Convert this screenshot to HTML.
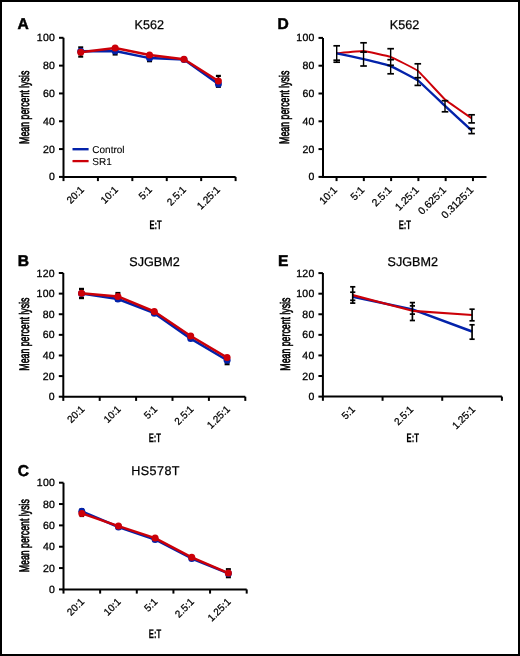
<!DOCTYPE html>
<html><head><meta charset="utf-8"><style>
html,body{margin:0;padding:0;background:#fff;}
body{width:520px;height:656px;overflow:hidden;}
svg{display:block;will-change:transform;}
.t{text-rendering:geometricPrecision;font-family:"Liberation Sans", sans-serif;fill:#000;stroke:#000;stroke-width:0.25px;}
</style></head><body>
<svg width="520" height="656" viewBox="0 0 520 656">
<rect x="1" y="1" width="518" height="654" fill="#fff" stroke="#000" stroke-width="2"/>
<text x="17.5" y="29.0" font-size="15.6" font-weight="bold" class="t" style="stroke-width:0.5px">A</text>
<text x="149.3" y="29" font-size="12.6" text-anchor="middle" class="t">K562</text>
<path d="M63.5 37.8 V176.9 H235.6" stroke="#000" stroke-width="2" fill="none"/>
<path d="M59.0 176.90 H63.5" stroke="#000" stroke-width="2"/>
<text x="55.10" y="180.40" font-size="10.5" letter-spacing="0.25" text-anchor="end" class="t" style="stroke-width:0.3px">0</text>
<path d="M59.0 149.08 H63.5" stroke="#000" stroke-width="2"/>
<text x="55.10" y="152.58" font-size="10.5" letter-spacing="0.25" text-anchor="end" class="t" style="stroke-width:0.3px">20</text>
<path d="M59.0 121.26 H63.5" stroke="#000" stroke-width="2"/>
<text x="55.10" y="124.76" font-size="10.5" letter-spacing="0.25" text-anchor="end" class="t" style="stroke-width:0.3px">40</text>
<path d="M59.0 93.44 H63.5" stroke="#000" stroke-width="2"/>
<text x="55.10" y="96.94" font-size="10.5" letter-spacing="0.25" text-anchor="end" class="t" style="stroke-width:0.3px">60</text>
<path d="M59.0 65.62 H63.5" stroke="#000" stroke-width="2"/>
<text x="55.10" y="69.12" font-size="10.5" letter-spacing="0.25" text-anchor="end" class="t" style="stroke-width:0.3px">80</text>
<path d="M59.0 37.80 H63.5" stroke="#000" stroke-width="2"/>
<text x="55.10" y="41.30" font-size="10.5" letter-spacing="0.25" text-anchor="end" class="t" style="stroke-width:0.3px">100</text>
<path d="M63.50 176.9 V181.1" stroke="#000" stroke-width="2"/>
<path d="M97.92 176.9 V181.1" stroke="#000" stroke-width="2"/>
<path d="M132.34 176.9 V181.1" stroke="#000" stroke-width="2"/>
<path d="M166.76 176.9 V181.1" stroke="#000" stroke-width="2"/>
<path d="M201.18 176.9 V181.1" stroke="#000" stroke-width="2"/>
<path d="M235.60 176.9 V181.1" stroke="#000" stroke-width="2"/>
<text transform="translate(84.61,190.4) rotate(-45)" font-size="10" text-anchor="end" class="t" style="stroke-width:0.25px">20:1</text>
<text transform="translate(118.63,190.4) rotate(-45)" font-size="10" text-anchor="end" class="t" style="stroke-width:0.25px">10:1</text>
<text transform="translate(152.65,190.4) rotate(-45)" font-size="10" text-anchor="end" class="t" style="stroke-width:0.25px">5:1</text>
<text transform="translate(186.67,190.4) rotate(-45)" font-size="10" text-anchor="end" class="t" style="stroke-width:0.25px">2.5:1</text>
<text transform="translate(220.69,190.4) rotate(-45)" font-size="10" text-anchor="end" class="t" style="stroke-width:0.25px">1.25:1</text>
<text transform="translate(155.6,229.1) scale(0.615,1)" font-size="12.4" font-weight="bold" text-anchor="middle" class="t">E:T</text>
<text transform="translate(29.2,107.3) rotate(-90) scale(0.636,1)" text-anchor="middle" font-size="13.8" class="t" style="stroke-width:0.7px">Mean percent lysis</text>
<path d="M80.71 47.4 V56.6" stroke="#000" stroke-width="1.6"/>
<path d="M78.21 47.4 H83.21" stroke="#000" stroke-width="2.2"/>
<path d="M78.21 56.6 H83.21" stroke="#000" stroke-width="2.2"/>
<path d="M115.13 47 V54.5" stroke="#000" stroke-width="1.6"/>
<path d="M112.63 47 H117.63" stroke="#000" stroke-width="2.2"/>
<path d="M112.63 54.5 H117.63" stroke="#000" stroke-width="2.2"/>
<path d="M149.55 55 V61.2" stroke="#000" stroke-width="1.6"/>
<path d="M147.05 55 H152.05" stroke="#000" stroke-width="2.2"/>
<path d="M147.05 61.2 H152.05" stroke="#000" stroke-width="2.2"/>
<path d="M218.39 75.9 V86.8" stroke="#000" stroke-width="1.6"/>
<path d="M215.89 75.9 H220.89" stroke="#000" stroke-width="2.2"/>
<path d="M215.89 86.8 H220.89" stroke="#000" stroke-width="2.2"/>
<polyline points="80.71,51.20 115.13,51.00 149.55,58.10 183.97,59.40 218.39,84.00" fill="none" stroke="#0322aa" stroke-width="2.5" stroke-linejoin="round"/>
<circle cx="80.71" cy="51.20" r="3.5" fill="#0322aa"/>
<circle cx="115.13" cy="51.00" r="3.5" fill="#0322aa"/>
<circle cx="149.55" cy="58.10" r="3.5" fill="#0322aa"/>
<circle cx="183.97" cy="59.40" r="3.5" fill="#0322aa"/>
<circle cx="218.39" cy="84.00" r="3.5" fill="#0322aa"/>
<polyline points="80.71,52.20 115.13,48.10 149.55,55.00 183.97,59.20 218.39,81.00" fill="none" stroke="#cc0008" stroke-width="2.5" stroke-linejoin="round"/>
<circle cx="80.71" cy="52.20" r="3.5" fill="#cc0008"/>
<circle cx="115.13" cy="48.10" r="3.5" fill="#cc0008"/>
<circle cx="149.55" cy="55.00" r="3.5" fill="#cc0008"/>
<circle cx="183.97" cy="59.20" r="3.5" fill="#cc0008"/>
<circle cx="218.39" cy="81.00" r="3.5" fill="#cc0008"/>
<path d="M72.5 149.2 H88.6" stroke="#0322aa" stroke-width="2.4"/>
<path d="M72.5 161.1 H88.6" stroke="#cc0008" stroke-width="2.3"/>
<text x="92.3" y="153" font-size="10" class="t" style="stroke-width:0.1px">Control</text>
<text x="92.3" y="165.2" font-size="10" class="t" style="stroke-width:0.1px">SR1</text>
<text x="17.8" y="265.9" font-size="15.6" font-weight="bold" class="t" style="stroke-width:0.5px">B</text>
<text x="154.5" y="265.8" font-size="12.6" text-anchor="middle" class="t">SJGBM2</text>
<path d="M63.3 273 V396.7 H245.3" stroke="#000" stroke-width="2" fill="none"/>
<path d="M58.8 396.70 H63.3" stroke="#000" stroke-width="2"/>
<text x="54.90" y="400.20" font-size="10.5" letter-spacing="0.25" text-anchor="end" class="t" style="stroke-width:0.3px">0</text>
<path d="M58.8 376.08 H63.3" stroke="#000" stroke-width="2"/>
<text x="54.90" y="379.58" font-size="10.5" letter-spacing="0.25" text-anchor="end" class="t" style="stroke-width:0.3px">20</text>
<path d="M58.8 355.47 H63.3" stroke="#000" stroke-width="2"/>
<text x="54.90" y="358.97" font-size="10.5" letter-spacing="0.25" text-anchor="end" class="t" style="stroke-width:0.3px">40</text>
<path d="M58.8 334.85 H63.3" stroke="#000" stroke-width="2"/>
<text x="54.90" y="338.35" font-size="10.5" letter-spacing="0.25" text-anchor="end" class="t" style="stroke-width:0.3px">60</text>
<path d="M58.8 314.23 H63.3" stroke="#000" stroke-width="2"/>
<text x="54.90" y="317.73" font-size="10.5" letter-spacing="0.25" text-anchor="end" class="t" style="stroke-width:0.3px">80</text>
<path d="M58.8 293.62 H63.3" stroke="#000" stroke-width="2"/>
<text x="54.90" y="297.12" font-size="10.5" letter-spacing="0.25" text-anchor="end" class="t" style="stroke-width:0.3px">100</text>
<path d="M58.8 273.00 H63.3" stroke="#000" stroke-width="2"/>
<text x="54.90" y="276.50" font-size="10.5" letter-spacing="0.25" text-anchor="end" class="t" style="stroke-width:0.3px">120</text>
<path d="M63.30 396.7 V400.9" stroke="#000" stroke-width="2"/>
<path d="M99.70 396.7 V400.9" stroke="#000" stroke-width="2"/>
<path d="M136.10 396.7 V400.9" stroke="#000" stroke-width="2"/>
<path d="M172.50 396.7 V400.9" stroke="#000" stroke-width="2"/>
<path d="M208.90 396.7 V400.9" stroke="#000" stroke-width="2"/>
<path d="M245.30 396.7 V400.9" stroke="#000" stroke-width="2"/>
<text transform="translate(85.10,409.7) rotate(-45)" font-size="10" text-anchor="end" class="t" style="stroke-width:0.25px">20:1</text>
<text transform="translate(121.50,409.7) rotate(-45)" font-size="10" text-anchor="end" class="t" style="stroke-width:0.25px">10:1</text>
<text transform="translate(157.90,409.7) rotate(-45)" font-size="10" text-anchor="end" class="t" style="stroke-width:0.25px">5:1</text>
<text transform="translate(194.30,409.7) rotate(-45)" font-size="10" text-anchor="end" class="t" style="stroke-width:0.25px">2.5:1</text>
<text transform="translate(230.70,409.7) rotate(-45)" font-size="10" text-anchor="end" class="t" style="stroke-width:0.25px">1.25:1</text>
<text transform="translate(154.8,441.9) scale(0.615,1)" font-size="12.4" font-weight="bold" text-anchor="middle" class="t">E:T</text>
<text transform="translate(29.4,334.1) rotate(-90) scale(0.636,1)" text-anchor="middle" font-size="13.8" class="t" style="stroke-width:0.7px">Mean percent lysis</text>
<path d="M81.50 288.9 V298.1" stroke="#000" stroke-width="1.6"/>
<path d="M79.00 288.9 H84.00" stroke="#000" stroke-width="2.2"/>
<path d="M79.00 298.1 H84.00" stroke="#000" stroke-width="2.2"/>
<path d="M117.90 293 V300.5" stroke="#000" stroke-width="1.6"/>
<path d="M115.40 293 H120.40" stroke="#000" stroke-width="2.2"/>
<path d="M115.40 300.5 H120.40" stroke="#000" stroke-width="2.2"/>
<path d="M227.10 359 V364.2" stroke="#000" stroke-width="1.6"/>
<path d="M224.60 359 H229.60" stroke="#000" stroke-width="2.2"/>
<path d="M224.60 364.2 H229.60" stroke="#000" stroke-width="2.2"/>
<polyline points="81.50,293.40 117.90,299.00 154.30,313.20 190.70,338.60 227.10,360.20" fill="none" stroke="#0322aa" stroke-width="2.5" stroke-linejoin="round"/>
<circle cx="81.50" cy="293.40" r="3.5" fill="#0322aa"/>
<circle cx="117.90" cy="299.00" r="3.5" fill="#0322aa"/>
<circle cx="154.30" cy="313.20" r="3.5" fill="#0322aa"/>
<circle cx="190.70" cy="338.60" r="3.5" fill="#0322aa"/>
<circle cx="227.10" cy="360.20" r="3.5" fill="#0322aa"/>
<polyline points="81.50,293.30 117.90,296.40 154.30,311.50 190.70,336.00 227.10,357.60" fill="none" stroke="#cc0008" stroke-width="2.5" stroke-linejoin="round"/>
<circle cx="81.50" cy="293.30" r="3.5" fill="#cc0008"/>
<circle cx="117.90" cy="296.40" r="3.5" fill="#cc0008"/>
<circle cx="154.30" cy="311.50" r="3.5" fill="#cc0008"/>
<circle cx="190.70" cy="336.00" r="3.5" fill="#cc0008"/>
<circle cx="227.10" cy="357.60" r="3.5" fill="#cc0008"/>
<text x="17.8" y="476.2" font-size="15.6" font-weight="bold" class="t" style="stroke-width:0.5px">C</text>
<text x="155.6" y="475.2" font-size="12.6" text-anchor="middle" letter-spacing="0.4" class="t">HS578T</text>
<path d="M63.5 482.7 V589.4 H246.7" stroke="#000" stroke-width="2" fill="none"/>
<path d="M59.0 589.40 H63.5" stroke="#000" stroke-width="2"/>
<text x="55.10" y="592.90" font-size="10.5" letter-spacing="0.25" text-anchor="end" class="t" style="stroke-width:0.3px">0</text>
<path d="M59.0 568.06 H63.5" stroke="#000" stroke-width="2"/>
<text x="55.10" y="571.56" font-size="10.5" letter-spacing="0.25" text-anchor="end" class="t" style="stroke-width:0.3px">20</text>
<path d="M59.0 546.72 H63.5" stroke="#000" stroke-width="2"/>
<text x="55.10" y="550.22" font-size="10.5" letter-spacing="0.25" text-anchor="end" class="t" style="stroke-width:0.3px">40</text>
<path d="M59.0 525.38 H63.5" stroke="#000" stroke-width="2"/>
<text x="55.10" y="528.88" font-size="10.5" letter-spacing="0.25" text-anchor="end" class="t" style="stroke-width:0.3px">60</text>
<path d="M59.0 504.04 H63.5" stroke="#000" stroke-width="2"/>
<text x="55.10" y="507.54" font-size="10.5" letter-spacing="0.25" text-anchor="end" class="t" style="stroke-width:0.3px">80</text>
<path d="M59.0 482.70 H63.5" stroke="#000" stroke-width="2"/>
<text x="55.10" y="486.20" font-size="10.5" letter-spacing="0.25" text-anchor="end" class="t" style="stroke-width:0.3px">100</text>
<path d="M63.50 589.4 V593.6" stroke="#000" stroke-width="2"/>
<path d="M100.14 589.4 V593.6" stroke="#000" stroke-width="2"/>
<path d="M136.78 589.4 V593.6" stroke="#000" stroke-width="2"/>
<path d="M173.42 589.4 V593.6" stroke="#000" stroke-width="2"/>
<path d="M210.06 589.4 V593.6" stroke="#000" stroke-width="2"/>
<path d="M246.70 589.4 V593.6" stroke="#000" stroke-width="2"/>
<text transform="translate(84.82,602.4) rotate(-45)" font-size="10" text-anchor="end" class="t" style="stroke-width:0.25px">20:1</text>
<text transform="translate(121.46,602.4) rotate(-45)" font-size="10" text-anchor="end" class="t" style="stroke-width:0.25px">10:1</text>
<text transform="translate(158.10,602.4) rotate(-45)" font-size="10" text-anchor="end" class="t" style="stroke-width:0.25px">5:1</text>
<text transform="translate(194.74,602.4) rotate(-45)" font-size="10" text-anchor="end" class="t" style="stroke-width:0.25px">2.5:1</text>
<text transform="translate(231.38,602.4) rotate(-45)" font-size="10" text-anchor="end" class="t" style="stroke-width:0.25px">1.25:1</text>
<text transform="translate(155,638.1) scale(0.615,1)" font-size="12.4" font-weight="bold" text-anchor="middle" class="t">E:T</text>
<text transform="translate(29.4,535.7) rotate(-90) scale(0.636,1)" text-anchor="middle" font-size="13.8" class="t" style="stroke-width:0.7px">Mean percent lysis</text>
<path d="M81.82 509.4 V516" stroke="#000" stroke-width="1.6"/>
<path d="M79.62 509.4 H84.02" stroke="#000" stroke-width="2.2"/>
<path d="M79.62 516 H84.02" stroke="#000" stroke-width="2.2"/>
<path d="M228.38 569.2 V577.2" stroke="#000" stroke-width="1.6"/>
<path d="M225.88 569.2 H230.88" stroke="#000" stroke-width="2.2"/>
<path d="M225.88 577.2 H230.88" stroke="#000" stroke-width="2.2"/>
<polyline points="81.82,511.30 118.46,527.00 155.10,539.50 191.74,558.50 228.38,573.40" fill="none" stroke="#0322aa" stroke-width="2.5" stroke-linejoin="round"/>
<circle cx="81.82" cy="511.30" r="3.5" fill="#0322aa"/>
<circle cx="118.46" cy="527.00" r="3.5" fill="#0322aa"/>
<circle cx="155.10" cy="539.50" r="3.5" fill="#0322aa"/>
<circle cx="191.74" cy="558.50" r="3.5" fill="#0322aa"/>
<circle cx="228.38" cy="573.40" r="3.5" fill="#0322aa"/>
<polyline points="81.82,513.40 118.46,526.10 155.10,538.10 191.74,557.30 228.38,573.10" fill="none" stroke="#cc0008" stroke-width="2.5" stroke-linejoin="round"/>
<circle cx="81.82" cy="513.40" r="3.5" fill="#cc0008"/>
<circle cx="118.46" cy="526.10" r="3.5" fill="#cc0008"/>
<circle cx="155.10" cy="538.10" r="3.5" fill="#cc0008"/>
<circle cx="191.74" cy="557.30" r="3.5" fill="#cc0008"/>
<circle cx="228.38" cy="573.10" r="3.5" fill="#cc0008"/>
<text x="277.5" y="29.0" font-size="15.6" font-weight="bold" class="t" style="stroke-width:0.5px">D</text>
<text x="404.5" y="28.8" font-size="12.6" text-anchor="middle" class="t">K562</text>
<path d="M323 37.9 V176.9 H486.5" stroke="#000" stroke-width="2" fill="none"/>
<path d="M318.5 176.90 H323" stroke="#000" stroke-width="2"/>
<text x="314.60" y="180.40" font-size="10.5" letter-spacing="0.25" text-anchor="end" class="t" style="stroke-width:0.3px">0</text>
<path d="M318.5 149.10 H323" stroke="#000" stroke-width="2"/>
<text x="314.60" y="152.60" font-size="10.5" letter-spacing="0.25" text-anchor="end" class="t" style="stroke-width:0.3px">20</text>
<path d="M318.5 121.30 H323" stroke="#000" stroke-width="2"/>
<text x="314.60" y="124.80" font-size="10.5" letter-spacing="0.25" text-anchor="end" class="t" style="stroke-width:0.3px">40</text>
<path d="M318.5 93.50 H323" stroke="#000" stroke-width="2"/>
<text x="314.60" y="97.00" font-size="10.5" letter-spacing="0.25" text-anchor="end" class="t" style="stroke-width:0.3px">60</text>
<path d="M318.5 65.70 H323" stroke="#000" stroke-width="2"/>
<text x="314.60" y="69.20" font-size="10.5" letter-spacing="0.25" text-anchor="end" class="t" style="stroke-width:0.3px">80</text>
<path d="M318.5 37.90 H323" stroke="#000" stroke-width="2"/>
<text x="314.60" y="41.40" font-size="10.5" letter-spacing="0.25" text-anchor="end" class="t" style="stroke-width:0.3px">100</text>
<path d="M336.55 176.9 V181.1" stroke="#000" stroke-width="2"/>
<path d="M363.83 176.9 V181.1" stroke="#000" stroke-width="2"/>
<path d="M391.11 176.9 V181.1" stroke="#000" stroke-width="2"/>
<path d="M418.39 176.9 V181.1" stroke="#000" stroke-width="2"/>
<path d="M445.67 176.9 V181.1" stroke="#000" stroke-width="2"/>
<path d="M472.95 176.9 V181.1" stroke="#000" stroke-width="2"/>
<text transform="translate(337.75,190.70000000000002) rotate(-45)" font-size="10.4" text-anchor="end" class="t" style="stroke-width:0.25px">10:1</text>
<text transform="translate(365.03,190.70000000000002) rotate(-45)" font-size="10.4" text-anchor="end" class="t" style="stroke-width:0.25px">5:1</text>
<text transform="translate(392.31,190.70000000000002) rotate(-45)" font-size="10.4" text-anchor="end" class="t" style="stroke-width:0.25px">2.5:1</text>
<text transform="translate(419.59,190.70000000000002) rotate(-45)" font-size="10.4" text-anchor="end" class="t" style="stroke-width:0.25px">1.25:1</text>
<text transform="translate(446.87,190.70000000000002) rotate(-45)" font-size="10.4" text-anchor="end" class="t" style="stroke-width:0.25px">0.625:1</text>
<text transform="translate(474.15,190.70000000000002) rotate(-45)" font-size="10.4" text-anchor="end" class="t" style="stroke-width:0.25px">0.3125:1</text>
<text transform="translate(404.8,229.2) scale(0.615,1)" font-size="12.4" font-weight="bold" text-anchor="middle" class="t">E:T</text>
<text transform="translate(289.2,107.3) rotate(-90) scale(0.636,1)" text-anchor="middle" font-size="13.8" class="t" style="stroke-width:0.7px">Mean percent lysis</text>
<path d="M336.70 53.30 C337.77 53.21 361.39 50.86 363.55 51.00 C365.71 51.14 388.48 56.11 390.65 56.90 C392.82 57.69 415.63 69.10 417.80 70.80 C419.97 72.50 442.85 97.60 445.00 99.50 C447.15 101.40 470.54 117.55 471.60 118.30" fill="none" stroke="#cc0008" stroke-width="1.9"/>
<path d="M336.70 53.30 C337.77 53.53 361.39 58.59 363.55 59.10 C365.71 59.61 388.48 65.25 390.65 66.10 C392.82 66.95 415.63 78.81 417.80 80.40 C419.97 81.99 442.85 103.90 445.00 105.90 C447.15 107.90 470.54 129.42 471.60 130.40" fill="none" stroke="#0322aa" stroke-width="2.4"/>
<path d="M336.70 45.8 V62.2" stroke="#000" stroke-width="1.4"/>
<path d="M333.40 45.8 H340.00" stroke="#000" stroke-width="1.7"/>
<path d="M333.40 60.2 H340.00" stroke="#000" stroke-width="1.7"/>
<path d="M333.40 62.2 H340.00" stroke="#000" stroke-width="1.7"/>
<path d="M363.55 42.8 V66" stroke="#000" stroke-width="1.4"/>
<path d="M360.25 42.8 H366.85" stroke="#000" stroke-width="1.7"/>
<path d="M360.25 52.1 H366.85" stroke="#000" stroke-width="1.7"/>
<path d="M360.25 66 H366.85" stroke="#000" stroke-width="1.7"/>
<path d="M390.65 48.7 V73.8" stroke="#000" stroke-width="1.4"/>
<path d="M387.35 48.7 H393.95" stroke="#000" stroke-width="1.7"/>
<path d="M387.35 59.7 H393.95" stroke="#000" stroke-width="1.7"/>
<path d="M387.35 65.3 H393.95" stroke="#000" stroke-width="1.7"/>
<path d="M387.35 73.8 H393.95" stroke="#000" stroke-width="1.7"/>
<path d="M417.80 63.8 V85.4" stroke="#000" stroke-width="1.4"/>
<path d="M414.50 63.8 H421.10" stroke="#000" stroke-width="1.7"/>
<path d="M414.50 77.7 H421.10" stroke="#000" stroke-width="1.7"/>
<path d="M414.50 85.4 H421.10" stroke="#000" stroke-width="1.7"/>
<path d="M445.00 100.7 V111.8" stroke="#000" stroke-width="1.4"/>
<path d="M441.70 100.7 H448.30" stroke="#000" stroke-width="1.7"/>
<path d="M441.70 111.8 H448.30" stroke="#000" stroke-width="1.7"/>
<path d="M471.60 114.8 V122.9" stroke="#000" stroke-width="1.4"/>
<path d="M468.30 114.8 H474.90" stroke="#000" stroke-width="1.7"/>
<path d="M468.30 122.9 H474.90" stroke="#000" stroke-width="1.7"/>
<path d="M471.60 128.4 V133.6" stroke="#000" stroke-width="1.4"/>
<path d="M468.30 128.4 H474.90" stroke="#000" stroke-width="1.7"/>
<path d="M468.30 133.6 H474.90" stroke="#000" stroke-width="1.7"/>
<text x="278" y="265.59999999999997" font-size="15.6" font-weight="bold" class="t" style="stroke-width:0.5px">E</text>
<text x="412.7" y="266.2" font-size="12.6" text-anchor="middle" class="t">SJGBM2</text>
<path d="M322.9 273.1 V396.6 H501.9" stroke="#000" stroke-width="2" fill="none"/>
<path d="M318.4 396.60 H322.9" stroke="#000" stroke-width="2"/>
<text x="314.50" y="400.10" font-size="10.5" letter-spacing="0.25" text-anchor="end" class="t" style="stroke-width:0.3px">0</text>
<path d="M318.4 376.02 H322.9" stroke="#000" stroke-width="2"/>
<text x="314.50" y="379.52" font-size="10.5" letter-spacing="0.25" text-anchor="end" class="t" style="stroke-width:0.3px">20</text>
<path d="M318.4 355.43 H322.9" stroke="#000" stroke-width="2"/>
<text x="314.50" y="358.93" font-size="10.5" letter-spacing="0.25" text-anchor="end" class="t" style="stroke-width:0.3px">40</text>
<path d="M318.4 334.85 H322.9" stroke="#000" stroke-width="2"/>
<text x="314.50" y="338.35" font-size="10.5" letter-spacing="0.25" text-anchor="end" class="t" style="stroke-width:0.3px">60</text>
<path d="M318.4 314.27 H322.9" stroke="#000" stroke-width="2"/>
<text x="314.50" y="317.77" font-size="10.5" letter-spacing="0.25" text-anchor="end" class="t" style="stroke-width:0.3px">80</text>
<path d="M318.4 293.68 H322.9" stroke="#000" stroke-width="2"/>
<text x="314.50" y="297.18" font-size="10.5" letter-spacing="0.25" text-anchor="end" class="t" style="stroke-width:0.3px">100</text>
<path d="M318.4 273.10 H322.9" stroke="#000" stroke-width="2"/>
<text x="314.50" y="276.60" font-size="10.5" letter-spacing="0.25" text-anchor="end" class="t" style="stroke-width:0.3px">120</text>
<path d="M322.90 396.6 V400.8" stroke="#000" stroke-width="2"/>
<path d="M382.57 396.6 V400.8" stroke="#000" stroke-width="2"/>
<path d="M442.23 396.6 V400.8" stroke="#000" stroke-width="2"/>
<path d="M501.90 396.6 V400.8" stroke="#000" stroke-width="2"/>
<text transform="translate(355.63,410.1) rotate(-45)" font-size="10" text-anchor="end" class="t" style="stroke-width:0.25px">5:1</text>
<text transform="translate(413.90,410.1) rotate(-45)" font-size="10" text-anchor="end" class="t" style="stroke-width:0.25px">2.5:1</text>
<text transform="translate(475.87,410.1) rotate(-45)" font-size="10" text-anchor="end" class="t" style="stroke-width:0.25px">1.25:1</text>
<text transform="translate(412.7,441.9) scale(0.615,1)" font-size="12.4" font-weight="bold" text-anchor="middle" class="t">E:T</text>
<text transform="translate(289.7,334.1) rotate(-90) scale(0.636,1)" text-anchor="middle" font-size="13.8" class="t" style="stroke-width:0.7px">Mean percent lysis</text>
<polyline points="352.73,296.80 412.40,309.40 472.07,331.50" fill="none" stroke="#0322aa" stroke-width="2.5" stroke-linejoin="round"/>
<polyline points="352.73,295.10 412.40,310.80 472.07,315.00" fill="none" stroke="#cc0008" stroke-width="2.2" stroke-linejoin="round"/>
<path d="M352.73 286.8 V303.1" stroke="#000" stroke-width="1.7"/>
<path d="M350.13 286.8 H355.33" stroke="#000" stroke-width="1.7"/>
<path d="M350.13 292.2 H355.33" stroke="#000" stroke-width="1.7"/>
<path d="M350.13 300.3 H355.33" stroke="#000" stroke-width="1.7"/>
<path d="M350.13 303.1 H355.33" stroke="#000" stroke-width="1.7"/>
<path d="M412.40 302.6 V320.5" stroke="#000" stroke-width="1.7"/>
<path d="M409.80 302.6 H415.00" stroke="#000" stroke-width="1.7"/>
<path d="M409.80 305.9 H415.00" stroke="#000" stroke-width="1.7"/>
<path d="M409.80 314.1 H415.00" stroke="#000" stroke-width="1.7"/>
<path d="M409.80 320.5 H415.00" stroke="#000" stroke-width="1.7"/>
<path d="M472.07 309.2 V320.8" stroke="#000" stroke-width="1.7"/>
<path d="M469.47 309.2 H474.67" stroke="#000" stroke-width="1.7"/>
<path d="M469.47 320.8 H474.67" stroke="#000" stroke-width="1.7"/>
<path d="M472.07 324.8 V339.2" stroke="#000" stroke-width="1.7"/>
<path d="M469.47 324.8 H474.67" stroke="#000" stroke-width="1.7"/>
<path d="M469.47 339.2 H474.67" stroke="#000" stroke-width="1.7"/>
</svg></body></html>
